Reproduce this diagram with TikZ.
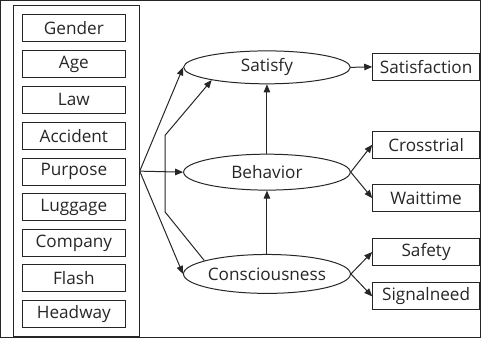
\documentclass[tikz,border=0pt]{standalone}
\usepackage{fontspec}
\setmainfont{Open Sans}
\usetikzlibrary{shapes.geometric, arrows.meta, positioning}

\begin{document}
\begin{tikzpicture}[
    x=1pt, y=-1pt,
    factor/.style={rectangle, draw, minimum width=103pt, minimum height=27pt, inner sep=0pt, font=\fontsize{17.2}{19}\selectfont},
    outcome/.style={rectangle, draw, minimum width=107pt, minimum height=27pt, inner sep=0pt, font=\fontsize{17.2}{19}\selectfont},
    latent/.style={ellipse, draw, minimum width=167pt, minimum height=36pt, inner sep=0pt, font=\fontsize{17.2}{19}\selectfont},
    arrow/.style={-{Triangle[length=8pt, width=6.5pt]}},
    every path/.style={line width=1pt, draw=black!85},
    every node/.style={text=black!85}
]
    \useasboundingbox (0,0) rectangle (481,338);

    % Outer frame of the factors
    \node[draw, minimum width=126pt, minimum height=332pt, inner sep=0pt] (factors) at (76, 171) {};

    % Factor boxes
    \node[factor] (gender) at (73.5, 28) {Gender};
    \node[factor] (age) at (73.5, 64) {Age};
    \node[factor] (law) at (73.5, 99.5) {Law};
    \node[factor] (accident) at (73.5, 135.5) {Accident};
    \node[factor] (purpose) at (73.5, 171.5) {Purpose};
    \node[factor] (luggage) at (73.5, 207) {Luggage};
    \node[factor] (company) at (73.5, 243) {Company};
    \node[factor] (flash) at (73.5, 278.5) {Flash};
    \node[factor] (headway) at (73.5, 314) {Headway};

    % Latent variables
    \node[latent, minimum height=33pt] (satisfy) at (267, 67) {Satisfy};
    \node[latent] (behavior) at (267, 172) {Behavior};
    \node[latent, minimum height=39pt] (conscious) at (267, 274) {Consciousness};

    % Observed outcomes
    \node[outcome] (satisfaction) at (426.5, 66.5) {Satisfaction};
    \node[outcome] (crosstrial) at (426.5, 144.5) {Crosstrial};
    \node[outcome] (waittime) at (426.5, 198) {Waittime};
    \node[outcome] (safety) at (426.5, 252) {Safety};
    \node[outcome] (signalneed) at (426.5, 296.5) {Signalneed};

    % Factors to latent variables
    \draw[arrow] (factors.east) -- (satisfy.west);
    \draw[arrow] (factors.east) -- (behavior.west);
    \draw[arrow] (factors.east) -- (conscious.west);

    % Consciousness to satisfy (bent path)
    \coordinate (bendlow) at (165, 212);
    \coordinate (bendhigh) at (165, 135);
    \draw[arrow] (conscious.168) -- (bendlow) -- (bendhigh) -- (satisfy.193);

    % Between latent variables
    \draw[arrow] (behavior.north) -- (satisfy.south);
    \draw[arrow] (conscious.north) -- (behavior.south);

    % Latent variables to outcomes
    \draw[arrow] (satisfy.east) -- (satisfaction.west);
    \draw[arrow] (behavior.east) -- (crosstrial.west);
    \draw[arrow] (behavior.east) -- (waittime.west);
    \draw[arrow] (conscious.east) -- (safety.west);
    \draw[arrow] (conscious.east) -- (signalneed.west);
\end{tikzpicture}
\end{document}
